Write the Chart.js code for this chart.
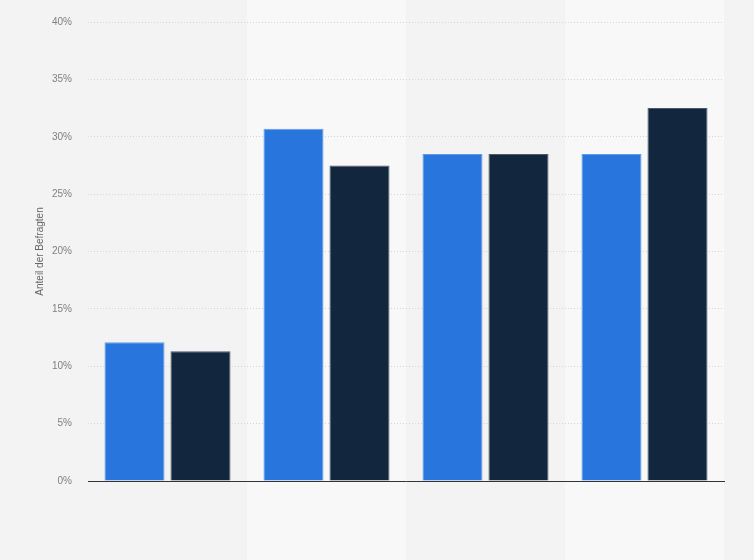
<!DOCTYPE html>
<html>
<head>
<meta charset="utf-8">
<script src="https://cdn.jsdelivr.net/npm/chart.js@4"></script>
<style>
  html, body { margin: 0; padding: 0; background: #f3f3f3; }
  #wrap { width: 754px; height: 560px; }
</style>
</head>
<body>
<div id="wrap"><canvas id="chart"></canvas></div>
<script>
const categories = ['', '', '', ''];
const seriesA = [12.1, 30.7, 28.5, 28.5];
const seriesB = [11.3, 27.5, 28.5, 32.5];
const yTicks = [0, 5, 10, 15, 20, 25, 30, 35, 40];

// background + alternating column bands
const bands = {
    id: 'bands',
    beforeDraw(chart) {
        const { ctx, scales: { x } } = chart;
        ctx.save();
        ctx.fillStyle = '#f3f3f3';
        ctx.fillRect(0, 0, chart.width, chart.height);
        const w = (x.right - x.left) / categories.length;
        ctx.fillStyle = '#f8f8f8';
        categories.forEach((c, i) => {
            if (i % 2 === 1) {
                const cx = x.getPixelForValue(i);
                ctx.fillRect(cx - w / 2, 0, w, chart.height);
            }
        });
        ctx.restore();
    }
};

const ctx = document.getElementById('chart').getContext('2d');
new Chart(ctx, {
    type: 'bar',
    data: {
        labels: categories,
        datasets: [{
            data: seriesA,
            backgroundColor: '#2876dd',
            borderColor: '#5e9ae6',
            borderWidth: 1,
            categoryPercentage: 0.83,
            barPercentage: 0.91
        }, {
            data: seriesB,
            backgroundColor: '#12263d',
            borderColor: '#4a5a6b',
            borderWidth: 1,
            categoryPercentage: 0.83,
            barPercentage: 0.91
        }]
    },
    options: {
        responsive: true,
        maintainAspectRatio: false,
        animation: false,
        layout: { padding: { top: 18, right: 30, bottom: 79, left: 0 } },
        plugins: { legend: { display: false }, tooltip: { enabled: false } },
        scales: {
            x: {
                ticks: { display: false },
                grid: { display: false, drawTicks: false },
                border: { display: true, color: '#333333', width: 1 }
            },
            y: {
                min: 0,
                max: 40,
                afterBuildTicks(scale) {
                    scale.ticks = yTicks.map(v => ({ value: v }));
                },
                afterFit(scale) { scale.width = 88; },
                ticks: {
                    color: '#808080',
                    font: { family: 'Liberation Sans, Arial', size: 10 },
                    padding: 16,
                    callback: v => v + '%'
                },
                grid: {
                    color: '#d6d6d6',
                    drawTicks: false,
                    lineWidth: 1
                },
                border: { display: false, dash: [1, 2] },
                title: {
                    display: true,
                    text: 'Anteil der Befragten',
                    color: '#666666',
                    font: { family: 'Liberation Sans, Arial', size: 10 },
                    padding: { top: 34, bottom: 0 }
                }
            }
        }
    },
    plugins: [bands]
});
</script>
</body>
</html>
